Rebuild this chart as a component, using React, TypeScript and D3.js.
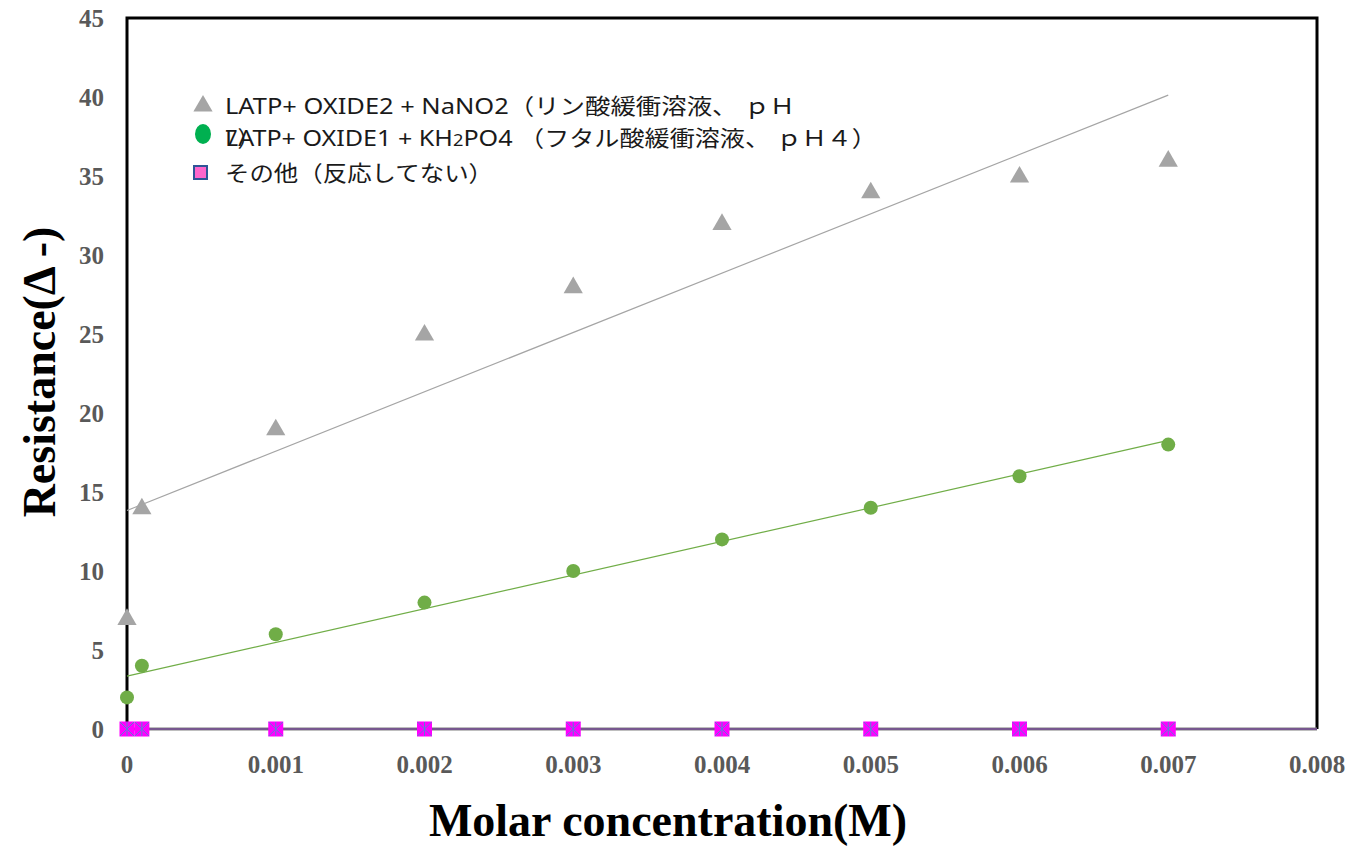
import React, { useEffect, useRef } from 'react';
import * as d3 from 'd3';

// concentrations (M)
const concentrations = [0, 0.0001, 0.001, 0.002, 0.003, 0.004, 0.005, 0.006, 0.007];
const oxide2Values = [7, 14, 19, 25, 28, 32, 34, 35, 36];
const oxide1Values = [2, 4, 6, 8, 10, 12, 14, 16, 18];
const otherValues = [0, 0, 0, 0, 0, 0, 0, 0, 0];

const xTicks = [0, 0.001, 0.002, 0.003, 0.004, 0.005, 0.006, 0.007, 0.008];
const yTicks = [0, 5, 10, 15, 20, 25, 30, 35, 40, 45];

const legendLabels = [
    'LATP+ OXIDE2 + NaNO2（リン酸緩衝溶液、 ｐＨ',
    'LATP+ OXIDE1 + KH2PO4 （フタル酸緩衝溶液、 ｐＨ４）',
    'その他（反応してない）',
];

function fit(xs: number[], ys: number[]) {
    const mx = d3.mean(xs) as number;
    const my = d3.mean(ys) as number;
    let sxy = 0;
    let sxx = 0;
    xs.forEach((x, i) => {
        sxy += (x - mx) * (ys[i] - my);
        sxx += (x - mx) * (x - mx);
    });
    const slope = sxx ? sxy / sxx : 0;
    return { slope, intercept: my - slope * mx };
}

export default function App() {
    const ref = useRef<SVGSVGElement>(null);

    useEffect(() => {
        drawChart();
        // eslint-disable-next-line
    }, []);

    function drawChart() {
        const svg = d3.select(ref.current);
        svg.selectAll('*').remove();

        const left = 127;
        const right = 1317;
        const top = 18;
        const bottom = 729;

        const x = d3.scaleLinear().domain([0, 0.008]).range([left, right]);
        const y = d3.scaleLinear().domain([0, 45]).range([bottom, top]);

        const tickFont = '"Liberation Serif", "Times New Roman", serif';

        // y tick labels
        svg.append('g')
            .selectAll('text')
            .data(yTicks)
            .enter()
            .append('text')
            .attr('x', 104)
            .attr('y', (d) => y(d) + 9)
            .attr('text-anchor', 'end')
            .style('font-family', tickFont)
            .style('font-weight', 'bold')
            .style('font-size', '25px')
            .style('fill', '#595959')
            .text((d) => d);

        // x tick labels
        svg.append('g')
            .selectAll('text')
            .data(xTicks)
            .enter()
            .append('text')
            .attr('x', (d) => x(d))
            .attr('y', 773)
            .attr('text-anchor', 'middle')
            .style('font-family', tickFont)
            .style('font-weight', 'bold')
            .style('font-size', '25px')
            .style('fill', '#595959')
            .text((d) => String(+d.toFixed(3)));

        // frame
        svg.append('path')
            .attr('d', `M${left},${bottom}V${top}H${right}V${bottom}`)
            .attr('fill', 'none')
            .attr('stroke', '#000')
            .attr('stroke-width', 3);

        // bottom axis
        svg.append('line')
            .attr('x1', left)
            .attr('x2', right)
            .attr('y1', y(0))
            .attr('y2', y(0))
            .attr('stroke', '#7f7f7f')
            .attr('stroke-width', 3);

        // trendlines (least squares)
        const trends = [
            { values: oxide2Values, color: '#a5a5a5', full: false },
            { values: oxide1Values, color: '#70ad47', full: false },
            { values: otherValues, color: '#7030a0', full: true },
        ];
        const x0 = d3.min(concentrations) as number;
        const x1 = d3.max(concentrations) as number;
        trends.forEach((t) => {
            const f = fit(concentrations, t.values);
            svg.append('line')
                .attr('x1', x(x0))
                .attr('x2', t.full ? right : x(x1))
                .attr('y1', y(f.intercept + f.slope * x0))
                .attr('y2', y(f.intercept + f.slope * x1))
                .attr('stroke', t.color)
                .attr('stroke-width', 1.2);
        });

        // triangles
        const tri = d3.symbol().type(d3.symbolTriangle).size(160);
        svg.append('g')
            .selectAll('path')
            .data(concentrations)
            .enter()
            .append('path')
            .attr('d', tri)
            .attr('transform', (d, i) => `translate(${x(d)},${y(oxide2Values[i]) + 1})`)
            .attr('fill', '#a5a5a5');

        // circles
        svg.append('g')
            .selectAll('circle')
            .data(concentrations)
            .enter()
            .append('circle')
            .attr('cx', (d) => x(d))
            .attr('cy', (d, i) => y(oxide1Values[i]))
            .attr('r', 7)
            .attr('fill', '#70ad47');

        // squares with star
        const sq = svg
            .append('g')
            .selectAll('g')
            .data(concentrations)
            .enter()
            .append('g')
            .attr('transform', (d, i) => `translate(${x(d)},${y(otherValues[i])})`);
        sq.append('rect')
            .attr('x', -7.5)
            .attr('y', -7.5)
            .attr('width', 15)
            .attr('height', 15)
            .attr('fill', '#ff00ff');
        sq.append('path')
            .attr('d', 'M-7,-7L7,7M7,-7L-7,7M0,-7V7')
            .attr('stroke', '#5b7fd6')
            .attr('stroke-width', 1);

        // legend
        const legendFont = '"Noto Sans", "Noto Sans CJK JP", sans-serif';
        const lg = svg.append('g').style('font-family', legendFont).style('font-size', '22px').style('fill', '#1a1a1a');

        lg.append('path')
            .attr('d', d3.symbol().type(d3.symbolTriangle).size(160)())
            .attr('transform', 'translate(203,106)')
            .attr('fill', '#a5a5a5');
        lg.append('text')
            .attr('x', 225)
            .attr('y', 114)
            .attr('textLength', 570)
            .attr('lengthAdjust', 'spacingAndGlyphs')
            .text(legendLabels[0]);
        lg.append('text').attr('x', 225).attr('y', 146).text('7）');

        lg.append('ellipse').attr('cx', 203).attr('cy', 134).attr('rx', 8).attr('ry', 10).attr('fill', '#00b050');
        const t2 = lg
            .append('text')
            .attr('x', 225)
            .attr('y', 146)
            .attr('textLength', 652)
            .attr('lengthAdjust', 'spacingAndGlyphs');
        t2.append('tspan').text('LATP+ OXIDE1 + KH');
        t2.append('tspan').style('font-size', '16px').text('2');
        t2.append('tspan').text('PO4 （フタル酸緩衝溶液、 ｐＨ４）');

        lg.append('rect')
            .attr('x', 194)
            .attr('y', 166)
            .attr('width', 13)
            .attr('height', 13)
            .attr('fill', '#ff66cc')
            .attr('stroke', '#2f5597')
            .attr('stroke-width', 2);
        lg.append('text')
            .attr('x', 225)
            .attr('y', 181)
            .attr('textLength', 268)
            .attr('lengthAdjust', 'spacingAndGlyphs')
            .text(legendLabels[2]);

        // axis titles
        svg.append('text')
            .attr('x', 668)
            .attr('y', 836)
            .attr('text-anchor', 'middle')
            .style('font-family', tickFont)
            .style('font-weight', 'bold')
            .style('font-size', '46px')
            .text('Molar concentration(M)');

        svg.append('text')
            .attr('transform', 'translate(55,372) rotate(-90)')
            .attr('text-anchor', 'middle')
            .style('font-family', tickFont)
            .style('font-weight', 'bold')
            .style('font-size', '46px')
            .text('Resistance(Δ -)');
    }

    return (
        <svg
            ref={ref}
            width={1356}
            height={846}
            style={{ position: 'absolute', left: 0, top: 0, background: '#fff' }}
        />
    );
}
